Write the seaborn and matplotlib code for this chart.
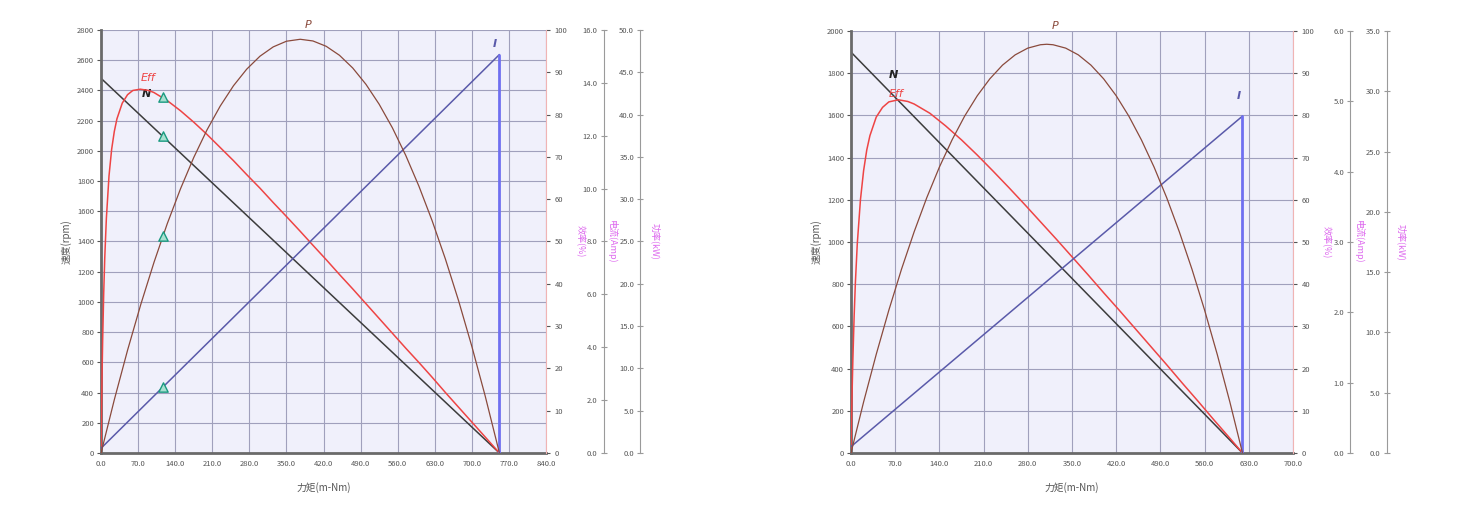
import numpy as np
import matplotlib
matplotlib.use("Agg")
import matplotlib.pyplot as plt
import seaborn as sns

# ---- motor A (left panel) ----
eff_torque_a = [0, 0.5, 1, 2, 3, 5, 7, 10, 15, 20, 25, 30, 40, 50, 60, 74, 90,
                100, 125, 150, 175, 200, 225, 250, 275, 300, 325, 350, 376, 400,
                425, 450, 475, 500, 525, 550, 575, 600, 625, 650, 675, 700, 725, 752]
eff_a = [0, 5.6, 10.6, 19.3, 26.5, 37.8, 46.2, 55.4, 65.5, 71.8, 76.0, 79.0,
         82.7, 84.7, 85.7, 86.0, 85.7, 85.2, 83.3, 80.9, 78.2, 75.3, 72.2, 69.1,
         65.8, 62.6, 59.2, 55.9, 52.4, 49.1, 45.7, 42.2, 38.8, 35.3, 31.8, 28.3,
         24.8, 21.4, 17.9, 14.3, 10.8, 7.3, 3.8, 0]
pow_torque_a = [0, 25, 50, 75, 100, 125, 150, 175, 200, 225, 250, 275, 300, 325,
                350, 376, 400, 425, 450, 475, 500, 525, 550, 575, 600, 625, 650,
                675, 700, 725, 752]
power_a = [0, 6.29, 12.14, 17.56, 22.55, 27.11, 31.23, 34.93, 38.19, 41.01,
           43.41, 45.37, 46.90, 48.00, 48.67, 48.90, 48.70, 48.07, 47.01, 45.51,
           43.58, 41.22, 38.43, 35.20, 31.54, 27.45, 22.93, 17.98, 12.59, 6.77, 0]
speed_torque_a = [0, 752]
speed_a = [2480, 0]
current_torque_a = [0, 752]
current_a = [0.18, 15.07]
marker_torque_a = [116.5]
marker_speed_a = [2096]
marker_eff_a = [84.1]
marker_power_a = [25.6]
marker_current_a = [2.5]

# ---- motor B (right panel) ----
eff_torque_b = [0, 0.5, 1, 2, 3, 5, 7, 10, 15, 20, 25, 30, 40, 50, 60, 75, 90,
                100, 125, 150, 175, 200, 225, 250, 275, 300, 325, 350, 375, 400,
                425, 450, 475, 500, 525, 550, 575, 600, 620]
eff_b = [0, 4.4, 8.5, 15.8, 22.1, 32.4, 40.4, 49.6, 60.0, 66.9, 71.8, 75.2,
         79.6, 81.9, 83.2, 83.7, 83.3, 82.7, 80.5, 77.5, 74.2, 70.6, 66.8, 62.9,
         58.9, 54.8, 50.7, 46.5, 42.3, 38.0, 33.8, 29.5, 25.2, 20.9, 16.5, 12.2,
         7.8, 3.5, 0]
pow_torque_b = [0, 20, 40, 60, 80, 100, 120, 140, 160, 180, 200, 220, 240, 260,
                280, 300, 310, 320, 340, 360, 380, 400, 420, 440, 460, 480, 500,
                520, 540, 560, 580, 600, 620]
power_b = [0, 4.23, 8.18, 11.85, 15.24, 18.34, 21.17, 23.71, 25.96, 27.94, 29.63,
           31.04, 32.17, 33.02, 33.58, 33.86, 33.90, 33.86, 33.58, 33.02, 32.17,
           31.04, 29.63, 27.94, 25.96, 23.71, 21.17, 18.34, 15.24, 11.85, 8.18,
           4.23, 0]
speed_torque_b = [0, 620]
speed_b = [1900, 0]
current_torque_b = [0, 620]
current_b = [0.09, 4.79]

sns.set_style("white")
plt.rcParams['font.family'] = ['Noto Sans CJK SC', 'DejaVu Sans']

C_N = '#3c3c3c'
C_EFF = '#ee4444'
C_P = '#8a4a3c'
C_I = '#5a5aaa'
C_IV = '#6f6ff0'
C_LBL = '#dd66ee'
C_TXT = '#555555'
C_GRID = '#a0a0bc'


def draw_panel(ax, xmax, ymax, curmax, curstep, powmax,
               et, eff, pt, power, st, sp, ct, cur, labels, markers=None):
    ax.set_facecolor('#f0f0fb')
    ax.set_ylim(0, ymax)
    ax.set_yticks(np.arange(0, ymax + 1, 200))

    # efficiency axis on the plot edge
    ax_e = ax.twinx()
    ax_e.set_ylim(0, 100)
    ax_e.set_yticks(np.arange(0, 101, 10))
    for s in ['top', 'left', 'bottom']:
        ax_e.spines[s].set_visible(False)
    ax_e.spines['right'].set_color('#f0b4b4')
    ax_e.tick_params(axis='y', labelsize=5.5, colors=C_TXT, length=3, pad=3)

    # current and power axes further out, labels left of the spine
    extra = []
    for pos, top, step in [(1.13, curmax, curstep), (1.212, powmax, 5)]:
        a = ax.twinx()
        a.set_ylim(0, top)
        a.set_yticks(np.arange(0, top + 0.01, step))
        a.set_yticklabels([f"{v:.1f}" for v in np.arange(0, top + 0.01, step)])
        for s in ['top', 'right', 'bottom']:
            a.spines[s].set_visible(False)
        a.spines['left'].set_visible(True)
        a.spines['left'].set_position(('axes', pos))
        a.spines['left'].set_color('#9a9a9a')
        a.yaxis.tick_left()
        a.tick_params(axis='y', labelsize=5.5, colors=C_TXT, length=5,
                      direction='inout', pad=2, color='#9a9a9a')
        extra.append(a)
    ax_c, ax_p = extra

    # curves
    sns.lineplot(x=st, y=sp, ax=ax, color=C_N, lw=1.1, estimator=None, sort=False)
    sns.lineplot(x=et, y=eff, ax=ax_e, color=C_EFF, lw=1.1, estimator=None, sort=False)
    sns.lineplot(x=pt, y=power, ax=ax_p, color=C_P, lw=0.9, estimator=None, sort=False)
    sns.lineplot(x=ct, y=cur, ax=ax_c, color=C_I, lw=1.1, estimator=None, sort=False)
    sns.lineplot(x=[ct[-1], ct[-1]], y=[cur[-1], 0], ax=ax_c, color=C_IV, lw=2.0,
                 estimator=None, sort=False)

    if markers is not None:
        mt, ms, me, mp, mc = markers
        kw = dict(marker='^', s=45, color='#a8e0d0', edgecolor='#1a9a80',
                  linewidth=1.0, zorder=5)
        sns.scatterplot(x=mt, y=ms, ax=ax, **kw)
        sns.scatterplot(x=mt, y=me, ax=ax_e, **kw)
        sns.scatterplot(x=mt, y=mp, ax=ax_p, **kw)
        sns.scatterplot(x=mt, y=mc, ax=ax_c, **kw)

    for a in [ax, ax_e, ax_c, ax_p]:
        a.set_xlim(0, xmax)
        a.set_ylabel('')
    ax_e.set_ylim(0, 100)
    ax_c.set_ylim(0, curmax)
    ax_p.set_ylim(0, powmax)
    ax.set_ylim(0, ymax)

    ax.set_xticks(np.arange(0, xmax + 1, 70))
    ax.set_xticklabels([f"{v:.1f}" for v in np.arange(0, xmax + 1, 70)])
    ax.grid(True, color=C_GRID, lw=0.8)
    ax.tick_params(axis='both', labelsize=5.5, colors=C_TXT, length=3,
                   direction='out', pad=2)
    for s in ['left', 'bottom']:
        ax.spines[s].set_color('#6a6a6a')
        ax.spines[s].set_linewidth(2)
    ax.spines['top'].set_visible(False)
    ax.spines['right'].set_visible(False)
    ax.set_xlabel('力矩(m-Nm)', fontsize=7, color=C_TXT, labelpad=10)
    ax.set_ylabel('速度(rpm)', fontsize=7, color=C_TXT, labelpad=4)

    # curve names
    (ex, ey), (nx, ny), (px, py), (ix, iy) = labels
    ax.text(ex, ey, 'Eff', color=C_EFF, fontsize=8, style='italic',
            ha='center', va='center', family='DejaVu Sans')
    ax.text(nx, ny, 'N', color='#222222', fontsize=8, style='italic',
            weight='bold', ha='center', va='center', family='DejaVu Sans')
    ax.text(px, py, 'P', color=C_P, fontsize=8, style='italic',
            ha='center', va='center', family='DejaVu Sans', clip_on=False)
    ax.text(ix, iy, 'I', color=C_I, fontsize=8, style='italic', weight='bold',
            ha='center', va='center', family='DejaVu Sans')

    # side axis titles
    ax.text(1.076, 0.5, '效率(%)', transform=ax.transAxes, rotation=270,
            color=C_LBL, fontsize=6.5, ha='center', va='center')
    ax.text(1.148, 0.5, '电流(Amp)', transform=ax.transAxes, rotation=270,
            color=C_LBL, fontsize=6.5, ha='center', va='center')
    ax.text(1.245, 0.5, '功率(kW)', transform=ax.transAxes, rotation=270,
            color=C_LBL, fontsize=6.5, ha='center', va='center')


fig = plt.figure(figsize=(14.71, 5.14), dpi=100)
ax_a = fig.add_axes([0.0687, 0.1187, 0.3025, 0.823])
ax_b = fig.add_axes([0.5785, 0.1187, 0.3005, 0.821])

draw_panel(ax_a, 840, 2800, 16, 2, 50,
           eff_torque_a, eff_a, pow_torque_a, power_a,
           speed_torque_a, speed_a, current_torque_a, current_a,
           labels=[(89, 2480), (86, 2375), (390, 2830), (744, 2710)],
           markers=(marker_torque_a, marker_speed_a, marker_eff_a,
                    marker_power_a, marker_current_a))
draw_panel(ax_b, 700, 2000, 6, 1, 35,
           eff_torque_b, eff_b, pow_torque_b, power_b,
           speed_torque_b, speed_b, current_torque_b, current_b,
           labels=[(71, 1700), (67, 1790), (323, 2025), (614, 1690)])

fig.savefig('out.png', dpi=100)
